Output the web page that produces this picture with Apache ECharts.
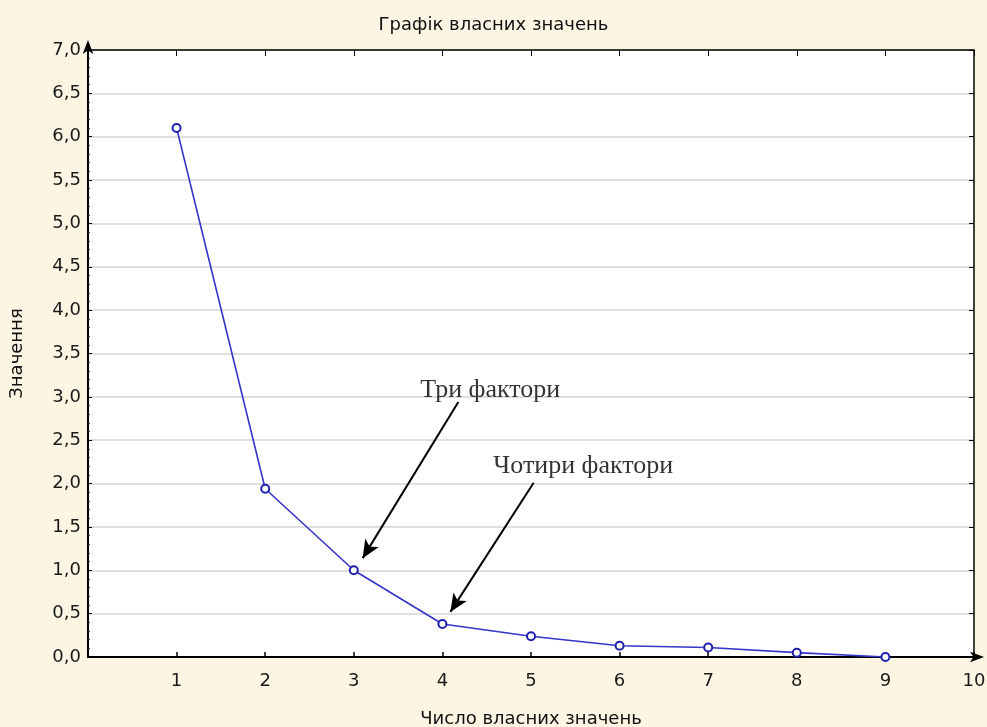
<!DOCTYPE html>
<html><head><meta charset="utf-8">
<script src="https://cdn.jsdelivr.net/npm/echarts@6/dist/echarts.min.js"></script>
<style>html,body{margin:0;padding:0;background:#fff}#c{width:987px;height:727px}</style>
</head><body><div id="c"></div>
<script>
const categories = [1, 2, 3, 4, 5, 6, 7, 8, 9];
const eigenvalues = [6.10, 1.94, 1.00, 0.38, 0.24, 0.13, 0.11, 0.05, 0.00];
const yTicks = [0, 0.5, 1, 1.5, 2, 2.5, 3, 3.5, 4, 4.5, 5, 5.5, 6, 6.5, 7];
const annotationTexts = ['Три фактори', 'Чотири фактори'];
const annotationTextPos = [[4.54, 3.08], [5.59, 2.20]];
const arrowStarts = [[4.18, 2.94], [5.03, 2.01]];
const arrowEnds = [[3.10, 1.14], [4.09, 0.52]];

const chart = echarts.init(document.getElementById('c'));
const sans = 'DejaVu Sans, Liberation Sans, Arial, sans-serif';
chart.setOption({
  backgroundColor: '#FCF5E4',
  animation: false,
  title: {
    text: 'Графік власних значень', left: 'center', top: 11,
    textStyle: { fontFamily: sans, fontSize: 18, fontWeight: 'normal', color: '#111' }
  },
  grid: { left: 88, right: 13, top: 50, bottom: 70, show: true, backgroundColor: '#ffffff', borderWidth: 0,
    outerBoundsMode: 'none', containLabel: false },
  xAxis: [{
    type: 'value', min: 0, max: 10, interval: 1, position: 'bottom',
    name: 'Число власних значень', nameLocation: 'middle', nameGap: 53,
    nameTextStyle: { fontFamily: sans, fontSize: 18, color: '#111' },
    axisLine: { onZero: false, lineStyle: { color: '#000', width: 2 }, symbol: ['none', 'arrow'], symbolSize: [8, 14], symbolOffset: [0, 10] },
    axisTick: { inside: true, length: 5, lineStyle: { color: '#000', width: 1.5 } },
    axisLabel: { fontFamily: sans, fontSize: 18, color: '#1a1a1a', margin: 15, formatter: v => v === 0 ? '' : String(v) },
    splitLine: { show: false }
  }, {
    type: 'value', min: 0, max: 10, interval: 1, position: 'top',
    axisLine: { onZero: false, lineStyle: { color: '#000', width: 1.5 } },
    axisTick: { inside: true, length: 6, lineStyle: { color: '#000', width: 1 } },
    axisLabel: { show: false }, splitLine: { show: false }
  }],
  yAxis: [{
    type: 'value', min: 0, max: 7, interval: 0.5, position: 'left',
    name: 'Значення', nameLocation: 'middle', nameGap: 62, nameRotate: 90,
    nameTextStyle: { fontFamily: sans, fontSize: 18, color: '#111' },
    axisLine: { onZero: false, show: true, lineStyle: { color: '#000', width: 2 }, symbol: ['none', 'arrow'], symbolSize: [8, 14], symbolOffset: [0, 10] },
    axisTick: { inside: true, length: 4, lineStyle: { color: '#000' } },
    minorTick: { show: true, splitNumber: 5, length: 2, lineStyle: { color: '#333' } },
    axisLabel: { fontFamily: sans, fontSize: 18, color: '#1a1a1a', margin: 7, formatter: v => v.toFixed(1).replace('.', ',') },
    splitLine: { show: true, lineStyle: { color: '#d4d4d4', width: 1.5 } }
  }, {
    type: 'value', min: 0, max: 7, interval: 0.5, position: 'right',
    axisLine: { onZero: false, show: true, lineStyle: { color: '#000', width: 1.5 } },
    axisTick: { inside: true, length: 5, lineStyle: { color: '#000' } },
    axisLabel: { show: false }, splitLine: { show: false }
  }],
  series: [{
    type: 'line', xAxisIndex: 0, yAxisIndex: 0,
    data: categories.map((c, i) => [c, eigenvalues[i]]),
    symbol: 'emptyCircle', symbolSize: 8,
    lineStyle: { color: '#3535C8', width: 1.6 },
    itemStyle: { color: '#2020B0', borderColor: '#2020B0', borderWidth: 2 },
    markLine: {
      silent: true, symbol: ['none', 'arrow'], symbolSize: [12, 18],
      lineStyle: { color: '#000', width: 2, type: 'solid' },
      label: { show: false },
      data: arrowStarts.map((s, i) => [{ coord: s }, { coord: arrowEnds[i] }])
    }
  }, {
    type: 'scatter', xAxisIndex: 0, yAxisIndex: 0, symbolSize: 0,
    data: annotationTextPos.map((p, i) => ({ value: p, name: annotationTexts[i] })),
    label: { show: true, position: 'inside', formatter: p => p.name,
      fontFamily: 'Liberation Serif, Times New Roman, serif', fontSize: 26, color: '#000' },
    silent: true
  }]
});
</script></body></html>
